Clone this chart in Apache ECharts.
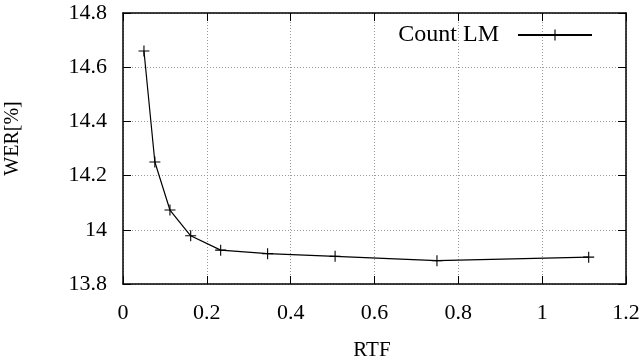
<!DOCTYPE html>
<html>
<head>
<meta charset="utf-8">
<script src="https://cdn.jsdelivr.net/npm/echarts@6/dist/echarts.min.js"></script>
<style>html,body{margin:0;padding:0;background:#fff}#c{width:640px;height:357px}</style>
</head>
<body>
<div id="c"></div>
<script>
const seriesName = 'Count LM';
const rtf = [0.05, 0.076, 0.112, 0.1615, 0.233, 0.345, 0.506, 0.749, 1.111];
const wer = [14.66, 14.25, 14.073, 13.978, 13.925, 13.912, 13.902, 13.886, 13.899];
const xTicks = [0, 0.2, 0.4, 0.6, 0.8, 1, 1.2];
const yTicks = [13.8, 14, 14.2, 14.4, 14.6, 14.8];

const font = '"Liberation Serif", serif';
const fs = 22;
const plus = 'path://M-5,-0.5H5V0.5H-5Z M-0.5,-5H0.5V5H-0.5Z';
const chart = echarts.init(document.getElementById('c'), null, {renderer: 'canvas'});
const tickFmt = v => String(Math.round(v * 10) / 10);
const lbl = {fontFamily: font, fontSize: fs, color: '#000', fontWeight: 'normal'};
chart.setOption({
  animation: false,
  backgroundColor: '#fff',
  textStyle: {fontFamily: font},
  grid: {left: 123, right: 14, top: 13, bottom: 73, show: false, containLabel: false, outerBoundsMode: 'none'},
  legend: {
    show: true,
    right: 42, top: 18,
    align: 'right',
    itemWidth: 74, itemHeight: 14,
    itemGap: 0,
    textStyle: Object.assign({}, lbl, {fontSize: 24, padding: [0, 14, 0, 0]}),
    data: [seriesName]
  },
  xAxis: [{
    type: 'value', min: xTicks[0], max: xTicks[xTicks.length - 1], interval: 0.2,
    name: 'RTF', nameLocation: 'middle', nameGap: 56,
    nameTextStyle: Object.assign({}, lbl, {fontSize: 21, padding: [0, 5, 0, 0]}),
    axisLine: {show: true, onZero: false, lineStyle: {color: '#000', width: 1.5}},
    axisTick: {show: true, inside: true, length: 8, lineStyle: {color: '#000'}},
    axisLabel: Object.assign({}, lbl, {margin: 18, formatter: tickFmt}),
    splitLine: {show: true, lineStyle: {color: '#999', type: [1, 2], width: 1}}
  }, {
    type: 'value', position: 'top', min: xTicks[0], max: xTicks[xTicks.length - 1], interval: 0.2,
    axisLine: {show: true, onZero: false, lineStyle: {color: '#000', width: 1.5}},
    axisTick: {show: true, inside: true, length: 8, lineStyle: {color: '#000'}},
    axisLabel: {show: false}, splitLine: {show: false}
  }],
  yAxis: [{
    type: 'value', min: yTicks[0], max: yTicks[yTicks.length - 1], interval: 0.2,
    name: 'WER[%]', nameLocation: 'middle', nameGap: 100, nameRotate: 90,
    nameTextStyle: Object.assign({}, lbl, {fontSize: 20, padding: [0, 0, 0, 20]}),
    axisLine: {show: true, onZero: false, lineStyle: {color: '#000', width: 1.5}},
    axisTick: {show: true, inside: true, length: 8, lineStyle: {color: '#000'}},
    axisLabel: Object.assign({}, lbl, {margin: 16, formatter: tickFmt}),
    splitLine: {show: true, lineStyle: {color: '#999', type: [1, 2], width: 1}}
  }, {
    type: 'value', position: 'right', min: yTicks[0], max: yTicks[yTicks.length - 1], interval: 0.2,
    axisLine: {show: true, onZero: false, lineStyle: {color: '#000', width: 1.5}},
    axisTick: {show: true, inside: true, length: 8, lineStyle: {color: '#000'}},
    axisLabel: {show: false}, splitLine: {show: false}
  }],
  series: [{
    name: seriesName,
    type: 'line',
    xAxisIndex: 0, yAxisIndex: 0,
    data: rtf.map((x, i) => [x, wer[i]]),
    showSymbol: true,
    symbol: plus,
    symbolSize: 11,
    color: '#000',
    itemStyle: {color: '#000'},
    lineStyle: {color: '#000', width: 1.2}
  }]
});
</script>
</body>
</html>
